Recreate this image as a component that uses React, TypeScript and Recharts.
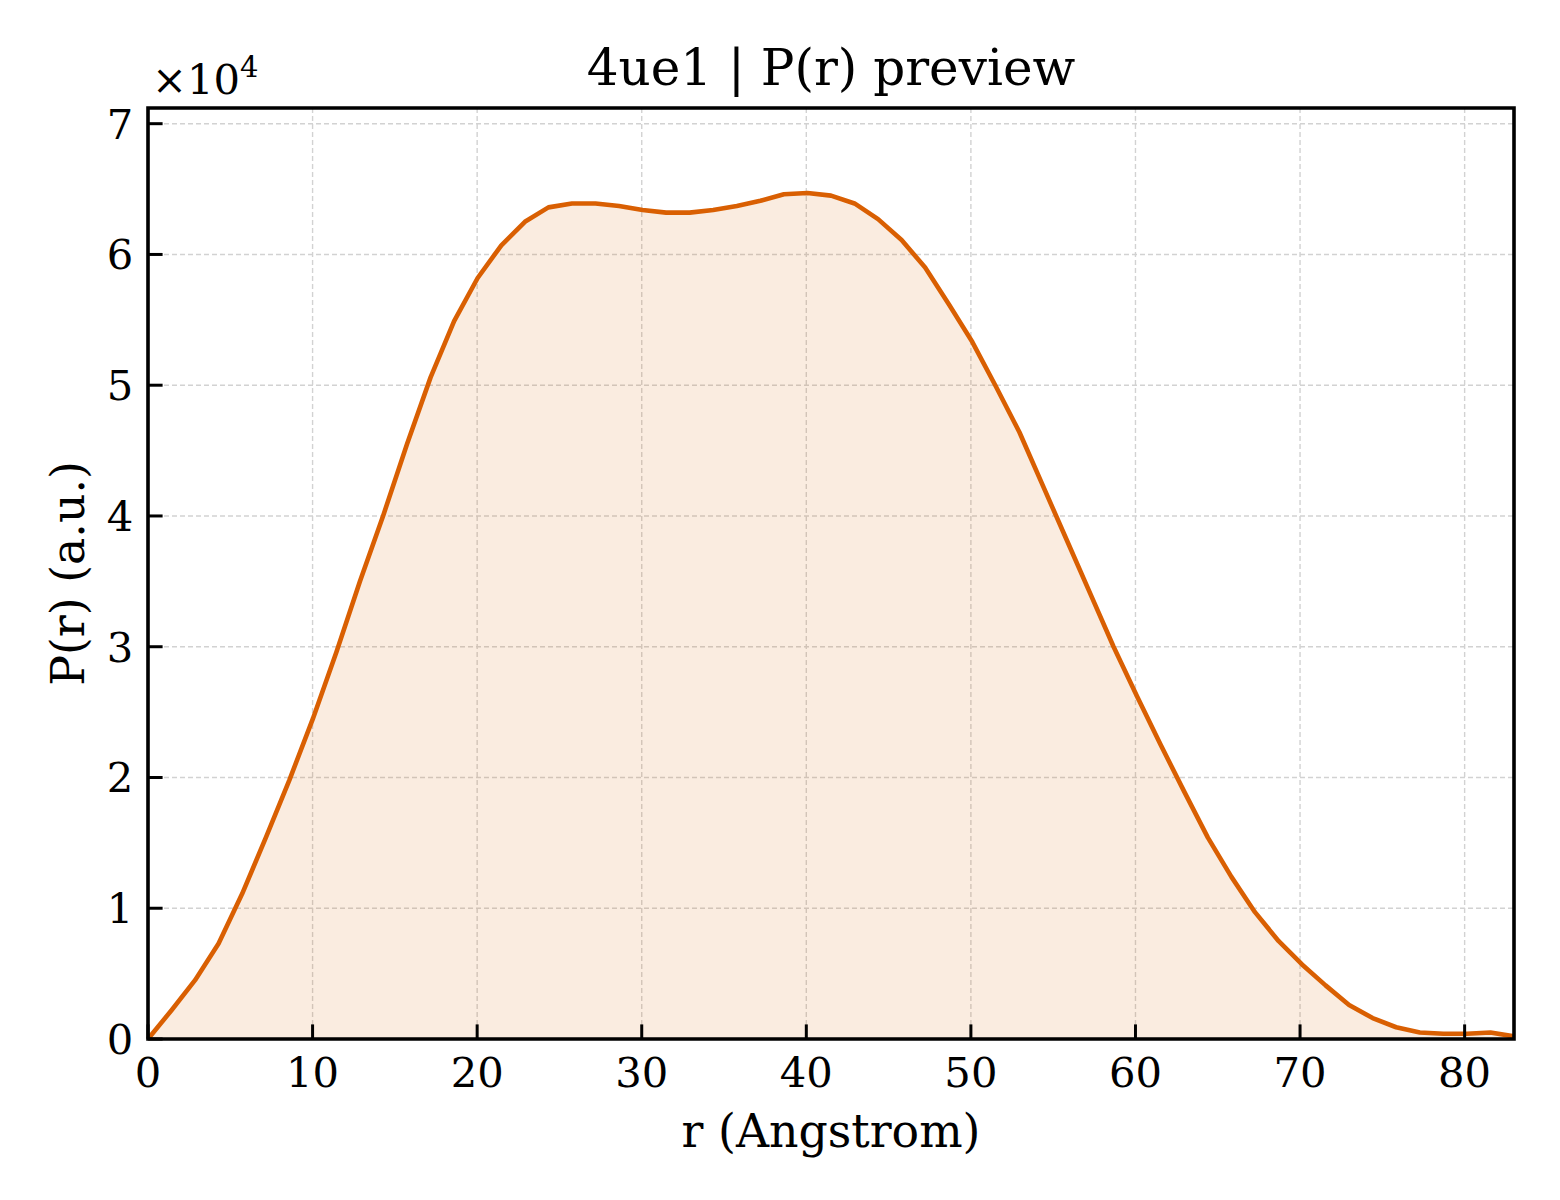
import React from "react";
import {
  AreaChart,
  Area,
  XAxis,
  YAxis,
  CartesianGrid,
  ReferenceArea,
} from "recharts";

const rValues = [
  0, 1.43, 2.86, 4.29, 5.72, 7.16, 8.59, 10.02, 11.45, 12.88, 14.31, 15.74,
  17.17, 18.6, 20.03, 21.47, 22.9, 24.33, 25.76, 27.19, 28.62, 30.05, 31.48,
  32.91, 34.34, 35.78, 37.21, 38.64, 40.07, 41.5, 42.93, 44.36, 45.79, 47.22,
  48.66, 50.09, 51.52, 52.95, 54.38, 55.81, 57.24, 58.67, 60.1, 61.53, 62.97,
  64.4, 65.83, 67.26, 68.69, 70.12, 71.55, 72.98, 74.41, 75.84, 77.28, 78.71,
  80.14, 81.57, 83.0,
];

const prValues = [
  0, 2200, 4500, 7300, 11100, 15400, 19800, 24500, 29600, 35000, 40100, 45500,
  50600, 54900, 58200, 60700, 62500, 63600, 63900, 63900, 63700, 63400, 63200,
  63200, 63400, 63700, 64100, 64600, 64700, 64500, 63900, 62700, 61100, 59000,
  56200, 53300, 49900, 46400, 42300, 38200, 34100, 30000, 26200, 22500, 18900,
  15400, 12400, 9700, 7500, 5700, 4100, 2600, 1600, 900, 500, 400, 400, 500,
  200,
];

const xTicks = [0, 10, 20, 30, 40, 50, 60, 70, 80];
const yTicks = [0, 10000, 20000, 30000, 40000, 50000, 60000, 70000];

const TITLE = "4ue1 | P(r) preview";
const X_LABEL = "r (Angstrom)";
const Y_LABEL = "P(r) (a.u.)";

const data = rValues.map((r, i) => ({ r, pr: prValues[i] }));

const W = 1560;
const H = 1200;
// axes are 1px wide/tall (0 would hide the ticks), so margins are 1px smaller
const M = { top: 108, right: 46, bottom: 160, left: 147 };
const FONT = "'DejaVu Serif', serif";
const TICK_FONT = 41.7;
const LABEL_FONT = 45.8;
const TICK_LEN = 14.6;
const ORANGE = "#d95f02";

function YTick(props: any) {
  const { x, y, payload } = props;
  return (
    <g>
      <line x1={x} x2={x + TICK_LEN} y1={y} y2={y} stroke="#000" strokeWidth={3} />
      <text
        x={x - 14.6}
        y={y}
        dy="0.36em"
        textAnchor="end"
        fontFamily={FONT}
        fontSize={TICK_FONT}
        fill="#000"
      >
        {payload.value / 10000}
      </text>
    </g>
  );
}

function XTick(props: any) {
  const { x, y, payload } = props;
  return (
    <g>
      <line x1={x} x2={x} y1={y} y2={y - TICK_LEN} stroke="#000" strokeWidth={3} />
      <text
        x={x}
        y={y + 48}
        textAnchor="middle"
        fontFamily={FONT}
        fontSize={TICK_FONT}
        fill="#000"
      >
        {payload.value}
      </text>
    </g>
  );
}

export default function App() {
  const plotCx = 148 + (1514 - 148) / 2;
  const plotCy = 108 + (1039 - 108) / 2;
  return (
    <div style={{ position: "absolute", left: 0, top: 0, width: W, height: H, background: "#fff" }}>
      <AreaChart width={W} height={H} data={data} margin={M}>
        <CartesianGrid stroke="#d2d2d2" strokeWidth={1.4} strokeDasharray="5 3" />
        <XAxis
          dataKey="r"
          type="number"
          domain={[0, 83]}
          ticks={xTicks}
          height={1}
          axisLine={false}
          tickLine={false}
          tickSize={0}
          tickMargin={0}
          tick={<XTick />}
          interval={0}
        />
        <YAxis
          type="number"
          domain={[0, 71200]}
          ticks={yTicks}
          width={1}
          axisLine={false}
          tickLine={false}
          tickSize={0}
          tickMargin={0}
          tick={<YTick />}
          interval={0}
        />
        <Area
          type="linear"
          dataKey="pr"
          stroke={ORANGE}
          strokeWidth={4.6}
          strokeLinejoin="round"
          fill={ORANGE}
          fillOpacity={0.12}
          dot={false}
          activeDot={false}
          isAnimationActive={false}
        />
        <ReferenceArea
          x1={0}
          x2={83}
          y1={0}
          y2={71200}
          fill="none"
          fillOpacity={0}
          stroke="#000"
          strokeWidth={3.6}
          strokeOpacity={1}
        />
      </AreaChart>
      <svg
        width={W}
        height={H}
        style={{ position: "absolute", left: 0, top: 0, pointerEvents: "none" }}
      >
        <text x={plotCx} y={85} textAnchor="middle" fontFamily={FONT} fontSize={50} fill="#000">
          {TITLE}
        </text>
        <text x={plotCx} y={1147} textAnchor="middle" fontFamily={FONT} fontSize={LABEL_FONT} fill="#000">
          {X_LABEL}
        </text>
        <text
          x={84}
          y={plotCy}
          textAnchor="middle"
          fontFamily={FONT}
          fontSize={LABEL_FONT}
          fill="#000"
          transform={`rotate(-90 84 ${plotCy})`}
        >
          {Y_LABEL}
        </text>
        <text x={152} y={94} fontFamily={FONT} fontSize={TICK_FONT} fill="#000">
          ×10
          <tspan fontSize={29} dy={-17}>
            4
          </tspan>
        </text>
      </svg>
    </div>
  );
}
